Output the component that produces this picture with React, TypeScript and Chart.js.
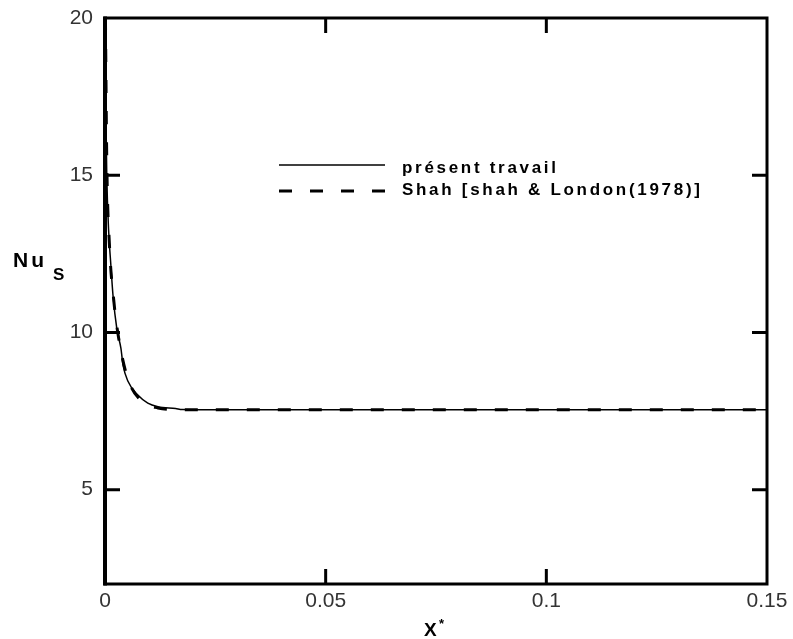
import React, { useEffect, useRef } from "react";
import { Chart, registerables } from "chart.js";

Chart.register(...registerables);

// ---- data ----
const presentLabel = "présent travail";
const shahLabel = "Shah [shah & London(1978)]";

const presentX = [0.00005, 0.0002, 0.0004, 0.0008, 0.0013, 0.0018, 0.0027, 0.0036, 0.0041, 0.0052, 0.0075, 0.0097, 0.012, 0.016, 0.0175, 0.03, 0.05, 0.08, 0.1, 0.12, 0.15];
const presentY = [20, 17, 15, 13.3, 12.2, 11.2, 10.1, 9.5, 8.95, 8.45, 8.0, 7.75, 7.64, 7.58, 7.55, 7.54, 7.54, 7.54, 7.54, 7.54, 7.54];

const shahX = [0.0001, 0.0004, 0.001, 0.002, 0.003, 0.005, 0.008, 0.012, 0.018, 0.15];
const shahY = [20, 15.5, 12.8, 11.0, 9.9, 8.6, 7.85, 7.6, 7.54, 7.54];

const xTicks = [0, 0.05, 0.1, 0.15];
const yTicks = [5, 10, 15, 20];

const xMin = 0, xMax = 0.15;
const yMin = 2, yMax = 20;

const fmt = (v: number) => String(Number(v.toFixed(3)));

const framePlugin = {
  id: "frame",
  afterDraw(chart: any) {
    const ctx = chart.ctx;
    const { left, right, top, bottom } = chart.chartArea;
    const xs = chart.scales.x;
    const ys = chart.scales.y;
    ctx.save();
    ctx.strokeStyle = "#000";
    ctx.lineCap = "butt";
    // box
    ctx.lineWidth = 3;
    ctx.strokeRect(left, top, right - left, bottom - top);
    ctx.lineWidth = 4;
    ctx.beginPath();
    ctx.moveTo(left, top - 1.5);
    ctx.lineTo(left, bottom + 1.5);
    ctx.stroke();
    // inward ticks
    const tl = 15;
    ctx.lineWidth = 3;
    ctx.beginPath();
    xTicks.forEach((v) => {
      if (v <= xMin || v >= xMax) return;
      const px = xs.getPixelForValue(v);
      ctx.moveTo(px, bottom);
      ctx.lineTo(px, bottom - tl);
      ctx.moveTo(px, top);
      ctx.lineTo(px, top + tl);
    });
    yTicks.forEach((v) => {
      if (v <= yMin || v >= yMax) return;
      const py = ys.getPixelForValue(v);
      ctx.moveTo(left, py);
      ctx.lineTo(left + tl, py);
      ctx.moveTo(right, py);
      ctx.lineTo(right - tl, py);
    });
    ctx.stroke();

    // legend
    const ds = chart.data.datasets;
    const lx0 = 279, lx1 = 385, tx = 402;
    const rows = [165, 191];
    ctx.font = "bold 17px 'Liberation Sans', Arial, sans-serif";
    (ctx as any).letterSpacing = "2.7px";
    ctx.textBaseline = "middle";
    ctx.fillStyle = "#000";
    ds.forEach((d: any, i: number) => {
      const y = rows[i];
      ctx.lineWidth = d.borderWidth;
      ctx.setLineDash(d.borderDash || []);
      ctx.beginPath();
      ctx.moveTo(lx0, y);
      ctx.lineTo(lx1, y);
      ctx.stroke();
      ctx.setLineDash([]);
      ctx.fillText(d.label, tx, y + (i === 0 ? 3 : -1));
    });
    (ctx as any).letterSpacing = "0px";

    // axis titles
    ctx.textBaseline = "alphabetic";
    ctx.textAlign = "left";
    ctx.font = "bold 21px 'Liberation Sans', Arial, sans-serif";
    (ctx as any).letterSpacing = "3px";
    ctx.fillText("Nu", 13, 267);
    (ctx as any).letterSpacing = "0px";
    ctx.font = "bold 17px 'Liberation Sans', Arial, sans-serif";
    ctx.fillText("S", 53, 280);

    ctx.font = "bold 19px 'Liberation Sans', Arial, sans-serif";
    ctx.fillText("X", 424, 636);
    ctx.font = "bold 13px 'Liberation Sans', Arial, sans-serif";
    ctx.fillText("*", 439, 628);
    ctx.restore();
  },
};

export default function App() {
  const ref = useRef<HTMLCanvasElement | null>(null);
  useEffect(() => {
    if (!ref.current) return;
    const chart = new Chart(ref.current, {
      type: "line",
      data: {
        datasets: [
          {
            label: presentLabel,
            data: presentX.map((x, i) => ({ x, y: presentY[i] })),
            borderColor: "#000",
            borderWidth: 1.5,
            pointRadius: 0,
            cubicInterpolationMode: "monotone",
            fill: false,
          },
          {
            label: shahLabel,
            data: shahX.map((x, i) => ({ x, y: shahY[i] })),
            borderColor: "#000",
            borderWidth: 3,
            borderDash: [13, 18],
            pointRadius: 0,
            cubicInterpolationMode: "monotone",
            fill: false,
          },
        ],
      },
      options: {
        animation: false,
        responsive: false,
        layout: { padding: { top: 18, right: 26, left: 0, bottom: 0 } },
        plugins: { legend: { display: false }, tooltip: { enabled: false } },
        scales: {
          x: {
            type: "linear",
            min: xMin,
            max: xMax,
            afterFit: (s: any) => { s.height = 55; s.paddingLeft = 0; s.paddingRight = 0; },
            afterBuildTicks: (s: any) => { s.ticks = xTicks.map((value) => ({ value })); },
            grid: { display: false, drawTicks: false },
            border: { display: false },
            ticks: {
              padding: 5,
              color: "#333",
              font: { family: "'Liberation Sans', Arial, sans-serif", size: 21 },
              maxRotation: 0,
              callback: (v: any) => fmt(Number(v)),
            },
          },
          y: {
            type: "linear",
            min: yMin,
            max: yMax,
            afterFit: (s: any) => { s.width = 105; s.paddingTop = 0; s.paddingBottom = 0; },
            afterBuildTicks: (s: any) => { s.ticks = yTicks.map((value) => ({ value })); },
            grid: { display: false, drawTicks: false },
            border: { display: false },
            ticks: {
              padding: 12,
              color: "#333",
              font: { family: "'Liberation Sans', Arial, sans-serif", size: 21 },
              callback: (v: any) => fmt(Number(v)),
            },
          },
        },
      } as any,
      plugins: [framePlugin],
    });
    return () => chart.destroy();
  }, []);
  return (
    <div style={{ position: "absolute", left: 0, top: 0, width: 793, height: 639, background: "#fff" }}>
      <canvas ref={ref} width={793} height={639} style={{ width: 793, height: 639, display: "block" }} />
    </div>
  );
}
